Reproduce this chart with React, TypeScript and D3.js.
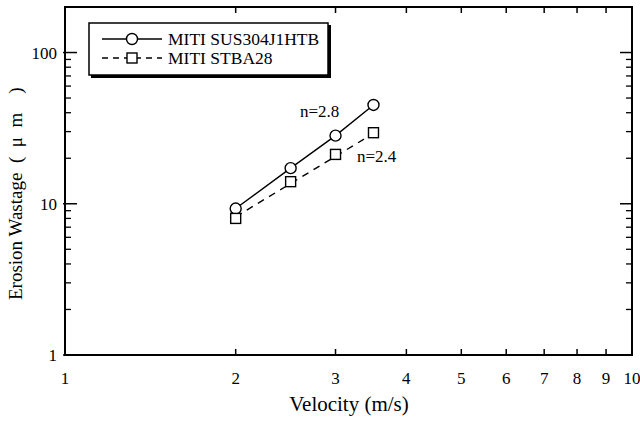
import React from "react"
import * as d3 from "d3"

// velocity (m/s) and erosion wastage (um)
const velocity = [2, 2.5, 3, 3.5]
const wastageSUS = [9.3, 17.2, 28.2, 45]
const wastageSTBA = [8.0, 14.0, 21.2, 29.5]
// fitted dashed line for STBA28 (end points)
const fitSTBA = [
  { v: 2, w: 8.2 },
  { v: 3.5, w: 29.2 },
]
const seriesNames = ["MITI SUS304J1HTB", "MITI STBA28"]
const xTickLabels = [1, 2, 3, 4, 5, 6, 7, 8, 9, 10]
const yTickLabels = [1, 10, 100]

const W = 640
const H = 421
const margin = { top: 7, right: 8, bottom: 66, left: 65 }
const font = "'Liberation Serif', 'Times New Roman', serif"

export default function App() {
  const x = d3.scaleLog().domain([1, 10]).range([margin.left, W - margin.right])
  const y = d3.scaleLog().domain([1, 200]).range([H - margin.bottom, margin.top])

  const yMinor: number[] = []
  for (const dec of [1, 10, 100]) {
    for (let k = 2; k <= 9; k++) {
      const v = dec * k
      if (v < 200) yMinor.push(v)
    }
  }

  const line = d3
    .line<number>()
    .x((d, i) => x(velocity[i]))
    .y((d) => y(d))
  const fitLine = d3
    .line<{ v: number; w: number }>()
    .x((d) => x(d.v))
    .y((d) => y(d.w))

  const x0 = x.range()[0]
  const x1 = x.range()[1]
  const y0 = y.range()[0]
  const y1 = y.range()[1]

  return (
    <svg width={W} height={H} style={{ position: "absolute", left: 0, top: 0 }} fontFamily={font}>
      <rect width={W} height={H} fill="#fff" />
      {/* x ticks, bottom and top */}
      {xTickLabels.map((t) => (
        <g key={"xt" + t}>
          <line x1={x(t)} x2={x(t)} y1={y0} y2={y0 - 6} stroke="#000" strokeWidth={1.5} />
          <line x1={x(t)} x2={x(t)} y1={y1} y2={y1 + 6} stroke="#000" strokeWidth={1.5} />
          <text x={x(t)} y={y0 + 29} textAnchor="middle" fontSize={17}>
            {t}
          </text>
        </g>
      ))}
      {/* y ticks */}
      {yMinor.map((t) => (
        <g key={"ym" + t}>
          <line x1={x0} x2={x0 + 6} y1={y(t)} y2={y(t)} stroke="#000" strokeWidth={1.3} />
          <line x1={x1} x2={x1 - 6} y1={y(t)} y2={y(t)} stroke="#000" strokeWidth={1.3} />
        </g>
      ))}
      {yTickLabels.map((t) => (
        <g key={"yt" + t}>
          <line x1={x0 - 2} x2={x0 + 12} y1={y(t)} y2={y(t)} stroke="#000" strokeWidth={1.5} />
          <line x1={x1} x2={x1 - 12} y1={y(t)} y2={y(t)} stroke="#000" strokeWidth={1.5} />
          <text x={x0 - 8} y={y(t) + 6} textAnchor="end" fontSize={17}>
            {t}
          </text>
        </g>
      ))}
      {/* frame */}
      <rect x={x0} y={y1} width={x1 - x0} height={y0 - y1} fill="none" stroke="#000" strokeWidth={2} />

      {/* series */}
      <path d={line(wastageSUS) || ""} fill="none" stroke="#000" strokeWidth={1.4} />
      <path d={fitLine(fitSTBA) || ""} fill="none" stroke="#000" strokeWidth={1.4} strokeDasharray="7,6" />
      {wastageSUS.map((w, i) => (
        <circle key={"c" + i} cx={x(velocity[i])} cy={y(w)} r={5.5} fill="#fff" stroke="#000" strokeWidth={1.4} />
      ))}
      {wastageSTBA.map((w, i) => (
        <rect key={"s" + i} x={x(velocity[i]) - 5} y={y(w) - 5} width={10} height={10} fill="#fff" stroke="#000" strokeWidth={1.4} />
      ))}
      <text x={300} y={117} fontSize={17}>n=2.8</text>
      <text x={357} y={162} fontSize={17}>n=2.4</text>

      {/* legend */}
      <rect x={91} y={25} width={240} height={53} fill="#000" />
      <rect x={89} y={23} width={239} height={52} fill="#fff" stroke="#000" strokeWidth={1.5} />
      <line x1={102} x2={162} y1={39} y2={39} stroke="#000" strokeWidth={1.4} />
      <circle cx={132} cy={39} r={5.5} fill="#fff" stroke="#000" strokeWidth={1.4} />
      <line x1={102} x2={162} y1={58} y2={58} stroke="#000" strokeWidth={1.4} strokeDasharray="6,5" />
      <rect x={127} y={53} width={10} height={10} fill="#fff" stroke="#000" strokeWidth={1.4} />
      <text x={168} y={45} fontSize={17.5}>{seriesNames[0]}</text>
      <text x={168} y={64} fontSize={17.5}>{seriesNames[1]}</text>

      {/* axis titles */}
      <text x={349} y={411} textAnchor="middle" fontSize={21}>
        Velocity (m/s)
      </text>
      <text transform={`translate(22,${300}) rotate(-90)`} textAnchor="start" fontSize={19}>
        {"Erosion Wastage\u2002(\u2002\u03bc\u2002m\u2003)"}
      </text>
    </svg>
  )
}
